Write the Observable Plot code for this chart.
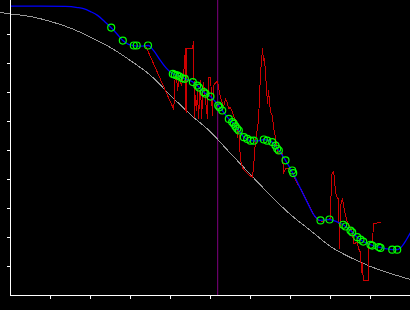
<!DOCTYPE html>
<html><head><meta charset="utf-8">
<script src="https://cdn.jsdelivr.net/npm/d3@7"></script>
<script src="https://cdn.jsdelivr.net/npm/@observablehq/plot@0.6"></script>
<style>html,body{margin:0;padding:0;background:#000;}#chart{width:410px;height:310px;}</style>
</head><body><div id="chart"></div>
<script>
// Reference curve (gray)
const refX = [-0.25,0,0.5,1,1.5,2,2.5,3,3.5,4,4.5,5,5.5,6,6.5,7,7.5,8,8.5,9,9.5,10];
const refY = [9.76,9.71,9.62,9.45,9.22,8.91,8.55,8.10,7.59,6.90,6.24,5.64,4.90,4.17,3.45,2.79,2.24,1.69,1.31,1.00,0.76,0.55];

// Smooth fit (blue)
const fitX = [0,0.75,1.375,1.675,1.825,2.0,2.175,2.35,2.518,2.675,2.808,2.95,3.075,3.25,3.45,3.575,3.75,3.9,4.058,4.168,4.358,4.558,4.668,4.833,5.0,5.2,5.293,5.458,5.583,5.708,5.833,6.0,6.2,6.333,6.543,6.668,6.75,6.875,7.05,7.25,7.418,7.583,7.75,7.975,8.15,8.318,8.5,8.668,8.818,9.0,9.208,9.375,9.543,9.668,9.8,9.9,10.0];
const fitY = [9.98,9.98,9.97,9.93,9.89,9.79,9.66,9.45,9.23,9.0,8.79,8.66,8.62,8.60,8.62,8.45,8.10,7.83,7.64,7.59,7.47,7.36,7.24,7.01,6.86,6.55,6.38,6.09,5.92,5.69,5.46,5.34,5.33,5.38,5.29,5.07,4.93,4.66,4.24,3.69,3.22,2.78,2.59,2.62,2.55,2.44,2.24,2.01,1.86,1.75,1.67,1.62,1.58,1.58,1.72,1.93,2.17];

// Sample points (green circles)
const ptX = [2.518,2.808,3.083,3.155,3.438,4.058,4.108,4.168,4.225,4.293,4.358,4.558,4.668,4.713,4.833,4.875,5.0,5.193,5.225,5.293,5.458,5.543,5.583,5.625,5.668,5.708,5.833,5.918,6.0,6.083,6.333,6.418,6.543,6.625,6.668,6.708,6.875,7.043,7.068,7.75,7.975,8.318,8.375,8.5,8.543,8.668,8.75,8.818,9.0,9.043,9.208,9.25,9.543,9.668];
const ptY = [9.24,8.79,8.62,8.62,8.62,7.64,7.61,7.59,7.55,7.49,7.47,7.36,7.24,7.17,7.01,6.96,6.86,6.55,6.49,6.38,6.09,5.98,5.92,5.83,5.75,5.69,5.46,5.40,5.34,5.34,5.38,5.34,5.29,5.17,5.06,5.0,4.66,4.31,4.22,2.59,2.62,2.44,2.38,2.24,2.18,2.01,1.93,1.86,1.75,1.72,1.67,1.64,1.58,1.58];

// Raw signal (red)
const rawX = [3.375,4.083,4.108,4.15,4.175,4.225,4.275,4.325,4.375,4.388,4.4,4.55,4.575,4.6,4.625,4.65,4.675,4.7,4.75,4.775,4.825,4.875,4.925,4.95,5.0,5.025,5.05,5.075,5.125,5.175,5.225,5.275,5.325,5.375,5.425,5.45,5.5,5.55,5.6,5.65,5.675,5.7,5.75,5.8,5.85,5.9,5.95,6.05,6.075,6.125,6.175,6.2,6.25,6.3,6.325,6.35,6.375,6.425,6.45,6.5,6.55,6.575,6.625,6.675,6.8,6.825,6.875,6.95,7.025,7.125,7.25,7.425,7.575,7.7,7.8,7.925,8.0,8.025,8.075,8.1,8.125,8.175,8.2,8.225,8.25,8.3,8.325,8.375,8.425,8.5,8.55,8.575,8.675,8.7,8.75,8.775,8.8,8.813,8.825,8.95,8.963,9.05,9.075,9.25];
const rawY = [8.62,6.41,7.41,7.59,7.07,7.48,7.24,7.55,8.52,6.31,8.52,8.52,8.76,6.14,6.90,6.38,7.07,6.10,7.41,6.10,7.34,6.72,6.10,7.52,7.52,6.90,6.21,7.24,7.34,7.38,7.0,6.72,6.48,6.79,6.62,6.45,6.48,6.31,6.10,6.03,5.45,5.86,4.66,4.41,4.31,4.24,4.17,4.07,4.41,5.34,5.79,6.03,7.66,8.52,8.10,8.17,7.66,6.62,7.07,6.31,6.21,5.79,5.45,4.90,4.90,4.21,4.38,4.38,4.31,3.97,3.69,3.21,2.79,2.59,2.55,2.62,2.66,4.14,4.28,4.03,3.55,3.34,3.34,1.62,3.10,3.34,3.10,2.76,2.52,2.31,2.17,1.79,1.83,1.62,1.48,0.79,1.14,0.69,0.52,0.52,1.83,1.83,2.48,2.52];

const marker = 5.18;
const xTicks = [1,2,3,4,5,6,7,8,9];
const yTicks = [1,2,3,4,5,6,7,8,9];

const zip = (xs, ys) => xs.map((x, i) => ({x, y: ys[i]}));
const ref = zip(refX, refY), fit = zip(fitX, fitY), pts = zip(ptX, ptY), raw = zip(rawX, rawY);

const chart = Plot.plot({
  width: 410, height: 310,
  marginLeft: 10, marginRight: 0, marginTop: 0, marginBottom: 15,
  style: {background: "#000", color: "#fff"},
  x: {domain: [0, 10], label: null},
  y: {domain: [0, 295/29], label: null},
  marks: [
    Plot.ruleX([marker], {stroke: "#800080", strokeWidth: 1}),
    Plot.line(ref, {x: "x", y: "y", stroke: "#999999", strokeWidth: 1, curve: "monotone-x", shapeRendering: "crispEdges"}),
    Plot.line(raw, {x: "x", y: "y", stroke: "#cc0000", strokeWidth: 1, shapeRendering: "crispEdges"}),
    Plot.line(fit, {x: "x", y: "y", stroke: "#0000ff", strokeWidth: 1.3, curve: "monotone-x"}),
    Plot.dot(pts, {x: "x", y: "y", r: 3.5, stroke: "#00ff00", strokeWidth: 1.2, fill: "none"}),
    Plot.axisX({ticks: xTicks, tickFormat: () => "", tickSize: 4, stroke: "#fff", label: null}),
    Plot.axisY({ticks: yTicks, tickFormat: () => "", tickSize: 3, stroke: "#fff", label: null}),
    Plot.ruleY([0], {stroke: "#fff", strokeWidth: 1}),
    Plot.ruleX([0], {stroke: "#fff", strokeWidth: 1})
  ]
});
document.getElementById("chart").appendChild(chart);
</script>
</body></html>
